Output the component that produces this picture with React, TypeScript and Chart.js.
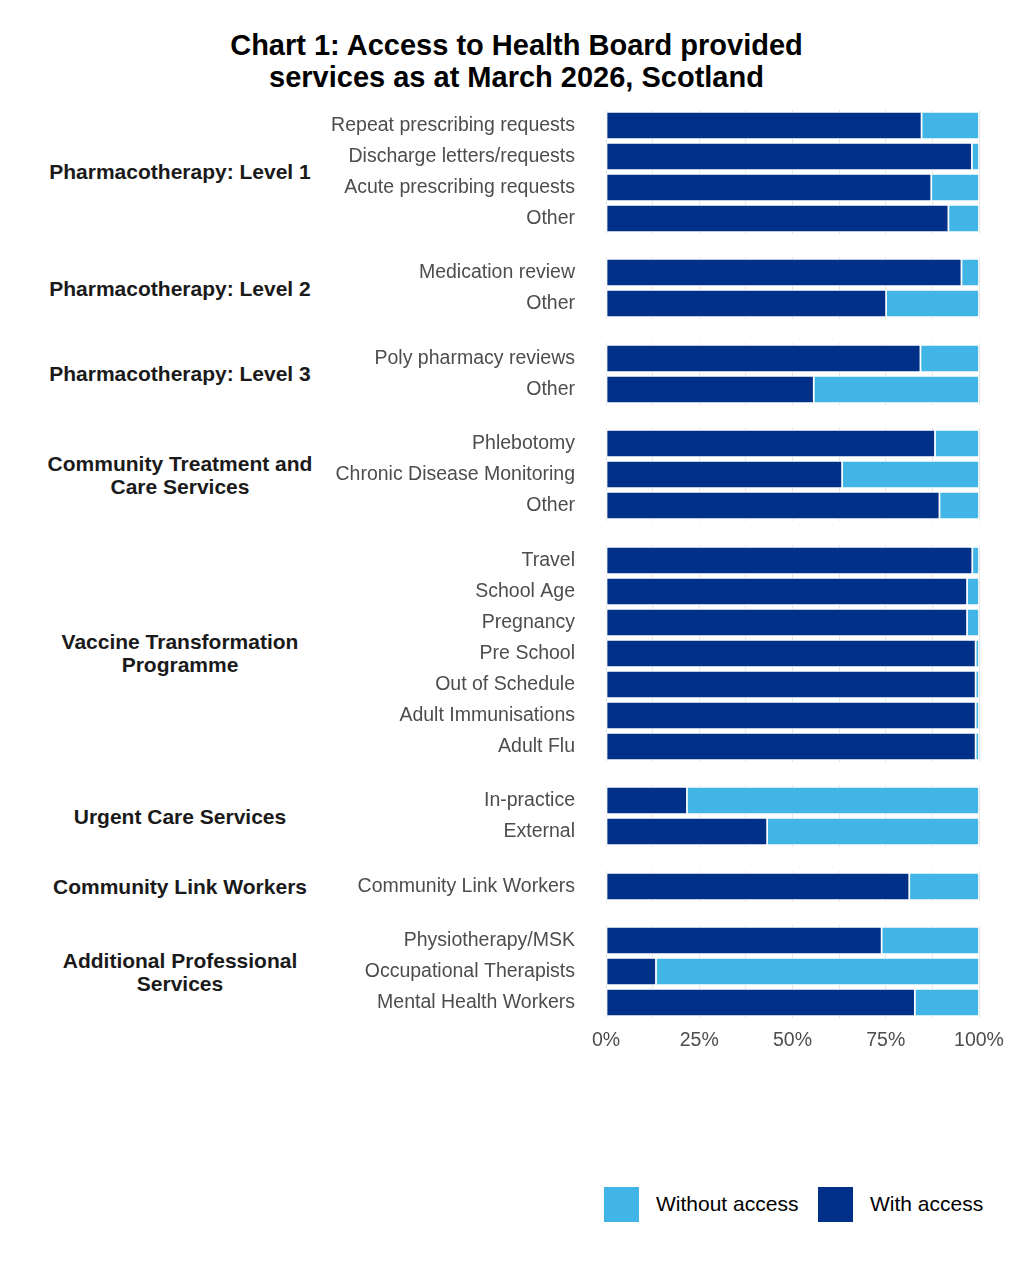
import { useEffect, useRef } from "react";
import { Chart, registerables } from "chart.js";

Chart.register(...registerables);

const FONT = "'Liberation Sans', Arial, sans-serif";

// facet groups (top to bottom)
const groupNames = [
  "Pharmacotherapy: Level 1",
  "Pharmacotherapy: Level 2",
  "Pharmacotherapy: Level 3",
  "Community Treatment and\nCare Services",
  "Vaccine Transformation\nProgramme",
  "Urgent Care Services",
  "Community Link Workers",
  "Additional Professional\nServices",
];

// services within each group
const serviceLabels = [
  ["Repeat prescribing requests", "Discharge letters/requests", "Acute prescribing requests", "Other"],
  ["Medication review", "Other"],
  ["Poly pharmacy reviews", "Other"],
  ["Phlebotomy", "Chronic Disease Monitoring", "Other"],
  ["Travel", "School Age", "Pregnancy", "Pre School", "Out of Schedule", "Adult Immunisations", "Adult Flu"],
  ["In-practice", "External"],
  ["Community Link Workers"],
  ["Physiotherapy/MSK", "Occupational Therapists", "Mental Health Workers"],
];

// % of practices with access (remainder is without access)
const withAccess = [
  [84.6, 98.1, 87.2, 91.8],
  [95.3, 75.1],
  [84.3, 55.7],
  [88.2, 63.3, 89.4],
  [98.2, 96.8, 96.8, 99.1, 99.1, 99.1, 99.1],
  [21.7, 43.2],
  [81.3],
  [73.9, 13.4, 82.8],
];

const seriesNames = ["With access", "Without access"];
const seriesColors = ["#003087", "#41b6e6"];
const tickValues = [0, 25, 50, 75, 100];

const ROW = 31;
const PAD = 2;
const GAP = 19.5;
const FIRST_TOP = 107.5;
const AXIS_H = 36;

function PanelChart({ idx, isLast }: { idx: number; isLast: boolean }) {
  const chartRef = useRef<HTMLCanvasElement>(null);

  useEffect(() => {
    if (!chartRef.current) return;
    const ctx = chartRef.current.getContext("2d");
    if (!ctx) return;

    const withVals = withAccess[idx];
    const withoutVals = withVals.map((v) => +(100 - v).toFixed(1));

    const chart = new Chart(ctx, {
      type: "bar",
      data: {
        labels: serviceLabels[idx],
        datasets: [
          {
            label: seriesNames[0],
            data: withVals,
            backgroundColor: seriesColors[0],
            borderColor: "#ffffff",
            borderWidth: 1.2,
            borderSkipped: false,
            barThickness: 27,
          },
          {
            label: seriesNames[1],
            data: withoutVals,
            backgroundColor: seriesColors[1],
            borderColor: "#ffffff",
            borderWidth: 1.2,
            borderSkipped: false,
            barThickness: 27,
          },
        ],
      },
      options: {
        indexAxis: "y",
        responsive: true,
        maintainAspectRatio: false,
        animation: false,
        layout: { padding: { top: PAD, bottom: isLast ? 0 : PAD, left: 0, right: 41 } },
        plugins: {
          legend: { display: false },
          tooltip: { enabled: false },
        },
        scales: {
          x: {
            stacked: true,
            min: 0,
            max: 100,
            border: { display: false },
            grid: { color: "#e6e6e6", lineWidth: 1, drawTicks: false },
            ticks: {
              display: isLast,
              stepSize: 12.5,
              autoSkip: false,
              maxRotation: 0,
              padding: 11,
              color: "#4d4d4d",
              font: { family: FONT, size: 19.5 },
              callback: (v) => (tickValues.includes(Number(v)) ? `${v}%` : ""),
            },
            afterFit: (scale) => {
              if (isLast) scale.height = AXIS_H;
              scale.paddingLeft = 0;
              scale.paddingRight = 0;
            },
          },
          y: {
            stacked: true,
            border: { display: false },
            grid: { display: false, drawTicks: false },
            ticks: {
              padding: 31,
              color: "#4d4d4d",
              font: { family: FONT, size: 19.5 },
            },
            afterFit: (scale) => {
              scale.width = 306;
              scale.paddingTop = 0;
              scale.paddingBottom = 0;
            },
          },
        },
      },
    });

    return () => {
      chart.destroy();
    };
  }, [idx, isLast]);

  return <canvas ref={chartRef} />;
}

export default function App() {
  let top = FIRST_TOP;
  const panels = groupNames.map((name, i) => {
    const n = serviceLabels[i].length;
    const h = n * ROW + PAD * 2;
    const t = top;
    top += h + GAP;
    return { name, i, t, h };
  });

  return (
    <div
      style={{
        position: "absolute",
        left: 0,
        top: 0,
        width: 1033,
        height: 1274,
        background: "#ffffff",
        fontFamily: FONT,
      }}
    >
      <div
        style={{
          position: "absolute",
          top: 29,
          left: 0,
          width: 1033,
          textAlign: "center",
          fontWeight: "bold",
          fontSize: 29,
          lineHeight: "32px",
          color: "#000000",
        }}
      >
        Chart 1: Access to Health Board provided
        <br />
        services as at March 2026, Scotland
      </div>

      {panels.map((p) => {
        const isLast = p.i === panels.length - 1;
        return (
          <div key={p.i}>
            <div
              style={{
                position: "absolute",
                left: 0,
                width: 360,
                top: p.t,
                height: p.h,
                display: "flex",
                alignItems: "center",
                justifyContent: "center",
                textAlign: "center",
                whiteSpace: "pre-line",
                fontWeight: "bold",
                fontSize: 21,
                lineHeight: "23px",
                color: "#1a1a1a",
              }}
            >
              {p.name}
            </div>
            <div
              style={{
                position: "absolute",
                left: 300,
                width: 720,
                top: p.t,
                height: p.h + (isLast ? AXIS_H - PAD : 0),
              }}
            >
              <PanelChart idx={p.i} isLast={isLast} />
            </div>
          </div>
        );
      })}

      {[1, 0].map((s, k) => (
        <div key={s}>
          <div
            style={{
              position: "absolute",
              left: 604 + k * 214,
              top: 1187,
              width: 35,
              height: 35,
              background: seriesColors[s],
            }}
          />
          <div
            style={{
              position: "absolute",
              left: 656 + k * 214,
              top: 1191,
              fontSize: 21,
              lineHeight: "26px",
              color: "#000000",
            }}
          >
            {seriesNames[s]}
          </div>
        </div>
      ))}
    </div>
  );
}
